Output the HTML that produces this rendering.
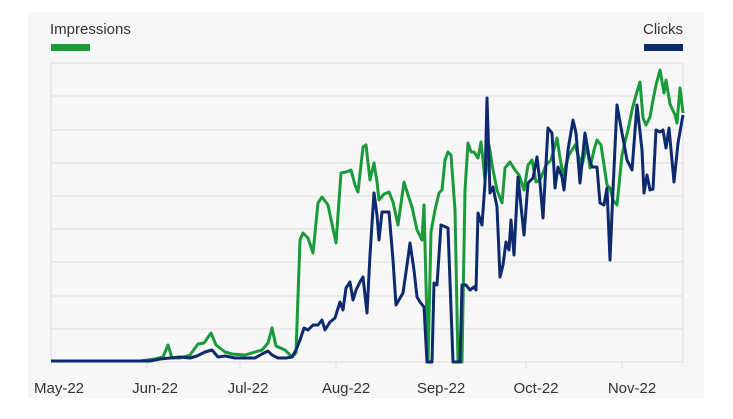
<!DOCTYPE html>
<html><head><meta charset="utf-8"><style>
body{margin:0;background:#fff;width:733px;height:419px;overflow:hidden}
svg{display:block}
text{font-family:"Liberation Sans",sans-serif;fill:#333}
</style></head><body>
<svg width="733" height="419" viewBox="0 0 733 419">
<rect x="28" y="12" width="676" height="386" fill="#f7f7f7"/>
<g stroke="#dcdcdc" stroke-width="1">
<line x1="51" y1="63" x2="683" y2="63"/><line x1="51" y1="96" x2="683" y2="96"/>
<line x1="51" y1="130" x2="683" y2="130"/><line x1="51" y1="163" x2="683" y2="163"/>
<line x1="51" y1="196" x2="683" y2="196"/><line x1="51" y1="229" x2="683" y2="229"/>
<line x1="51" y1="262" x2="683" y2="262"/><line x1="51" y1="296" x2="683" y2="296"/>
<line x1="51" y1="329" x2="683" y2="329"/><line x1="51" y1="362" x2="683" y2="362"/>
<line x1="683" y1="63" x2="683" y2="362"/><line x1="51" y1="63" x2="51" y2="362"/>
<line x1="147" y1="362" x2="147" y2="368"/><line x1="240" y1="362" x2="240" y2="368"/>
<line x1="336" y1="362" x2="336" y2="368"/><line x1="432" y1="362" x2="432" y2="368"/>
<line x1="526" y1="362" x2="526" y2="368"/><line x1="622" y1="362" x2="622" y2="368"/>
</g>
<text x="50" y="34" font-size="15">Impressions</text>
<rect x="51" y="44" width="39" height="7" fill="#1a9a3a"/>
<text x="683" y="34" font-size="15" text-anchor="end">Clicks</text>
<rect x="644" y="44" width="39" height="7" fill="#0e2a6e"/>
<g font-size="15" text-anchor="middle">
<text x="59" y="393">May-22</text><text x="155" y="393">Jun-22</text><text x="248" y="393">Jul-22</text>
<text x="346" y="393">Aug-22</text><text x="441" y="393">Sep-22</text><text x="536" y="393">Oct-22</text><text x="632" y="393">Nov-22</text>
</g>
<polyline fill="none" stroke="#1a9a3a" stroke-width="3" stroke-linejoin="round" points="51,361 140,361 155,359 163,357 168,345 172,358 180,358 190,355 198,344 204,343 211,333 216,345 225,352 232,354 245,355 255,352 262,350 268,343 272,328 276,346 285,350 292,357 296,353 300,240 303,233 308,238 313,253 318,203 322,197 328,205 336,243 341,173 346,172 351,170 355,185 358,192 363,147 366,145 370,180 374,163 377,182 379,200 384,194 389,192 393,202 398,225 404,182 408,195 412,207 417,230 422,240 424,205 428,362 431,232 435,210 439,193 442,190 445,160 448,152 451,155 455,210 458,362 462,362 465,190 468,143 471,152 474,152 478,158 481,142 483,160 485,180 489,145 493,170 497,190 502,203 505,168 510,162 515,170 519,175 524,190 528,165 532,160 536,182 540,180 546,165 551,160 557,138 560,158 563,175 566,165 569,155 572,150 575,145 578,155 582,165 587,145 590,168 594,150 597,140 601,145 604,165 607,185 610,188 613,200 617,205 622,155 625,142 628,130 632,110 636,95 640,82 643,118 646,125 650,117 653,100 656,85 660,70 664,93 666,80 670,104 675,115 677,123 680,88 683,113"/>
<polyline fill="none" stroke="#0e2a6e" stroke-width="3" stroke-linejoin="round" points="51,361 150,361 160,359 170,358 180,357 190,358 197,356 205,352 212,350 218,357 225,356 235,358 245,358 255,358 262,354 268,351 272,355 278,358 286,358 292,357 296,350 300,340 304,328 308,330 313,325 318,325 322,320 325,330 330,322 335,318 340,302 343,310 346,288 350,282 353,300 356,290 360,282 363,277 367,313 370,255 374,193 377,215 379,240 382,212 389,212 393,260 396,305 403,293 407,265 410,243 414,270 417,297 420,302 424,307 427,362 432,362 434,283 437,285 441,225 448,228 453,362 460,362 462,285 466,285 470,290 474,287 476,290 478,213 482,225 485,183 487,98 490,193 493,187 497,207 500,277 503,265 506,242 509,250 511,220 514,255 518,177 524,235 528,183 533,178 537,157 540,183 543,218 548,128 552,133 555,188 558,167 562,177 564,190 568,150 573,120 576,133 580,183 585,133 589,157 592,167 597,167 600,203 604,205 607,188 610,260 613,190 617,105 622,133 627,160 632,170 637,105 642,150 644,193 647,175 650,190 653,189 656,130 660,132 663,130 666,148 669,128 674,182 678,143 683,115"/>
</svg>
</body></html>
